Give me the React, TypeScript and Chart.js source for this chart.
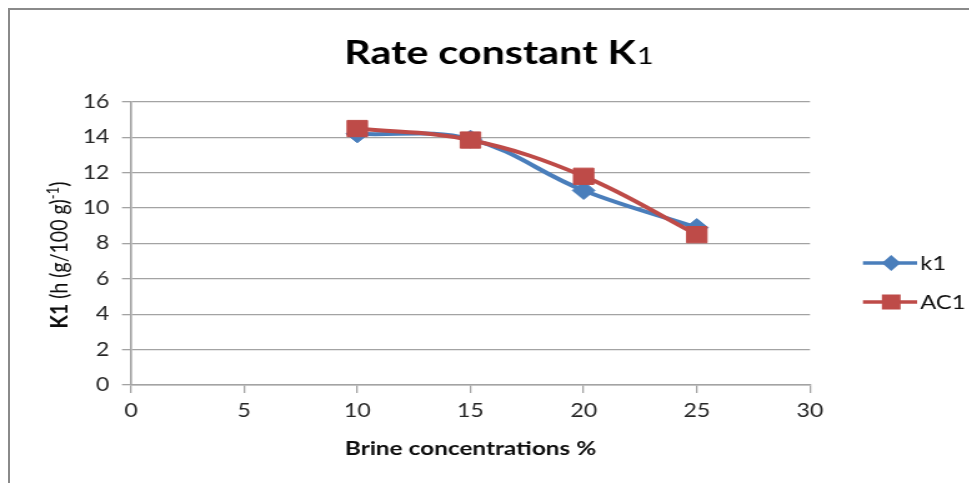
import { useEffect, useRef } from "react";
import { Chart, registerables } from "chart.js";

Chart.register(...registerables);

// Brine concentration (%) on the x axis
const concentrations = [10, 15, 20, 25];
// Rate constant series
const k1Values = [14.2, 13.9, 11.0, 8.9];
const ac1Values = [14.5, 13.85, 11.8, 8.5];

const seriesNames = ["k1", "AC1"];
const seriesColors = ["#4A7EBB", "#BE4B48"];

const xMin = 0;
const xMax = 30;
const xStep = 5;
const yMin = 0;
const yMax = 16;
const yStep = 2;

const titleMain = "Rate constant K";
const titleSub = "1";
const xTitle = "Brine concentrations %";

// The drawing is laid out in a narrow space and widened horizontally
const STRETCH = 1.2494;
const INNER_W = 774;
const INNER_H = 473;

const FONT = "Lato, 'Open Sans', sans-serif";
const AXIS_GRAY = "#a3a3a3";
const TEXT_GRAY = "#262626";

const textPlugin = {
  id: "chartTexts",
  afterDraw(chart: any) {
    const ctx = chart.ctx as CanvasRenderingContext2D;
    ctx.save();

    // Title with a smaller trailing "1"
    ctx.fillStyle = "#000";
    ctx.textBaseline = "alphabetic";
    ctx.textAlign = "left";
    const mainFont = `bold 33px ${FONT}`;
    const subFont = `23px ${FONT}`;
    ctx.font = mainFont;
    const wMain = ctx.measureText(titleMain).width;
    ctx.font = subFont;
    const wSub = ctx.measureText(titleSub).width;
    const tx = 391.4 - (wMain + wSub + 1) / 2;
    ctx.font = mainFont;
    ctx.fillText(titleMain, tx, 54);
    ctx.font = subFont;
    ctx.fillText(titleSub, tx + wMain + 1, 54);

    // x axis title
    ctx.font = `bold 19.5px ${FONT}`;
    ctx.textAlign = "center";
    ctx.fillStyle = "#0d0d0d";
    ctx.fillText(xTitle, (chart.chartArea.left + chart.chartArea.right) / 2, 445);

    // y axis title: "K1 (h (g/100 g)-1)" with bold K1 and superscript -1
    const parts = [
      { t: "K1", f: `bold 19.5px ${FONT}`, dy: 0 },
      { t: " (h (g/100 g)", f: `19.5px ${FONT}`, dy: 0 },
      { t: "-1", f: `13px ${FONT}`, dy: -7.5 },
      { t: ")", f: `19.5px ${FONT}`, dy: 0 },
    ];
    let total = 0;
    const widths = parts.map((p) => {
      ctx.font = p.f;
      const w = ctx.measureText(p.t).width;
      total += w;
      return w;
    });
    ctx.translate(46, 245);
    ctx.rotate(-Math.PI / 2);
    ctx.textAlign = "left";
    ctx.fillStyle = "#0d0d0d";
    let px = -total / 2;
    parts.forEach((p, i) => {
      ctx.font = p.f;
      ctx.fillText(p.t, px, p.dy);
      px += widths[i];
    });
    ctx.setTransform(1, 0, 0, 1, 0, 0);
    ctx.restore();

    // Legend: line with marker, then the label
    ctx.save();
    const rows = [253, 292];
    chart.data.datasets.forEach((ds: any, i: number) => {
      const y = rows[i];
      ctx.strokeStyle = ds.borderColor;
      ctx.lineWidth = 3.5;
      ctx.beginPath();
      ctx.moveTo(682.7, y);
      ctx.lineTo(726, y);
      ctx.stroke();
      ctx.fillStyle = ds.borderColor;
      if (ds.pointStyle === "rect") {
        ctx.fillRect(705.3 - 7.5, y - 7.5, 15, 15);
      } else {
        ctx.beginPath();
        ctx.moveTo(705.3, y - 8);
        ctx.lineTo(705.3 + 7.5, y);
        ctx.lineTo(705.3, y + 8);
        ctx.lineTo(705.3 - 7.5, y);
        ctx.closePath();
        ctx.fill();
      }
      ctx.fillStyle = "#0d0d0d";
      ctx.font = `19px ${FONT}`;
      ctx.textAlign = "left";
      ctx.textBaseline = "middle";
      ctx.fillText(ds.label, 728.5, y + 1);
    });
    ctx.restore();
  },
};

export default function App() {
  const canvasRef = useRef<HTMLCanvasElement | null>(null);

  useEffect(() => {
    if (!canvasRef.current) return;
    const chart = new Chart(canvasRef.current, {
      type: "line",
      data: {
        datasets: [
          {
            label: seriesNames[0],
            data: concentrations.map((x, i) => ({ x, y: k1Values[i] })),
            borderColor: seriesColors[0],
            backgroundColor: seriesColors[0],
            borderWidth: 4,
            tension: 0.38,
            pointStyle: "rectRot",
            pointRadius: 9,
            pointBorderWidth: 1,
            order: 2,
          },
          {
            label: seriesNames[1],
            data: concentrations.map((x, i) => ({ x, y: ac1Values[i] })),
            borderColor: seriesColors[1],
            backgroundColor: seriesColors[1],
            borderWidth: 4,
            tension: 0.38,
            pointStyle: "rect",
            pointRadius: 11.5,
            pointBorderWidth: 1,
            order: 1,
          },
        ],
      },
      options: {
        animation: false,
        responsive: true,
        maintainAspectRatio: false,
        layout: { padding: { top: 92, right: INNER_W - 640.3, bottom: 0, left: 0 } },
        plugins: {
          legend: { display: false },
          title: { display: false },
          tooltip: { enabled: false },
        },
        scales: {
          x: {
            type: "linear",
            min: xMin,
            max: xMax,
            ticks: {
              stepSize: xStep,
              color: TEXT_GRAY,
              font: { family: FONT, size: 18.5 },
              padding: 7,
            },
            grid: {
              drawOnChartArea: false,
              color: AXIS_GRAY,
              lineWidth: 1.3,
              tickLength: 8,
            },
            border: { color: AXIS_GRAY, width: 1.4 },
            afterFit: (s: any) => {
              s.height = INNER_H - 375;
            },
          },
          y: {
            min: yMin,
            max: yMax,
            ticks: {
              stepSize: yStep,
              color: TEXT_GRAY,
              font: { family: FONT, size: 18.5 },
              padding: 10,
            },
            grid: {
              color: AXIS_GRAY,
              lineWidth: 1.3,
              tickLength: 7.2,
            },
            border: { color: AXIS_GRAY, width: 1.6 },
            afterFit: (s: any) => {
              s.width = 96.8;
            },
          },
        },
      },
      plugins: [textPlugin],
    });
    return () => chart.destroy();
  }, []);

  return (
    <div
      style={{
        width: 969,
        height: 475,
        boxSizing: "border-box",
        borderTop: "2px solid #8a8a8a",
        borderLeft: "2px solid #8a8a8a",
        overflow: "hidden",
        background: "#fff",
        position: "relative",
      }}
    >
      <div
        style={{
          width: INNER_W,
          height: INNER_H,
          transform: `scaleX(${STRETCH})`,
          transformOrigin: "0 0",
          position: "relative",
        }}
      >
        <canvas ref={canvasRef} />
      </div>
    </div>
  );
}
